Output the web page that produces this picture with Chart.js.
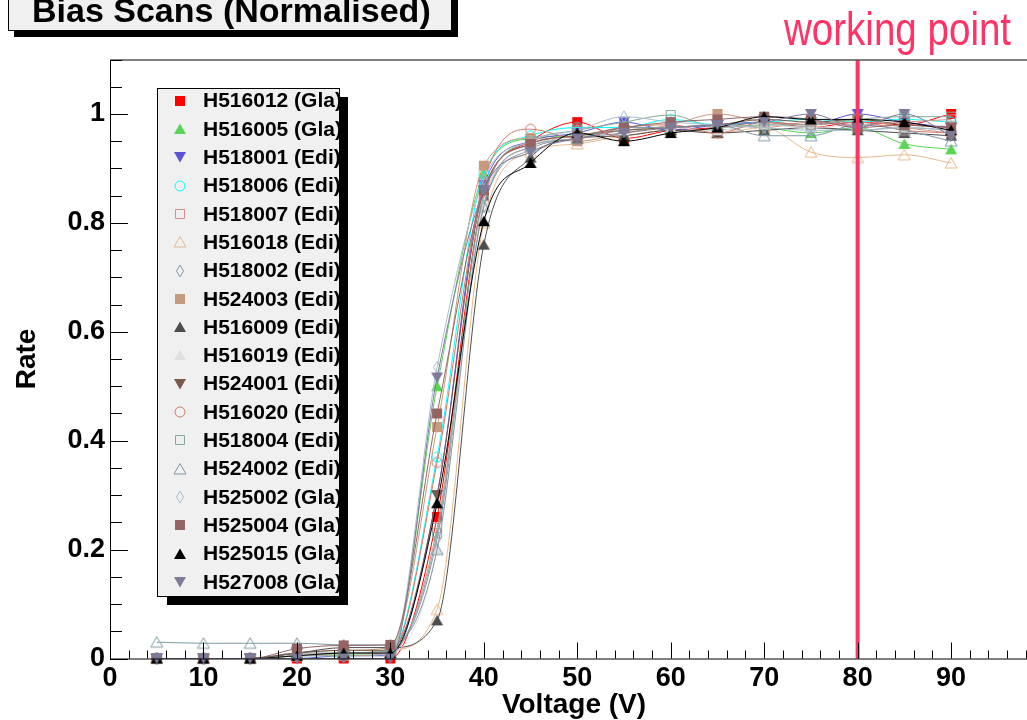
<!DOCTYPE html>
<html>
<head>
<meta charset="utf-8">
<title>Bias Scans (Normalised)</title>
<script src="https://cdn.jsdelivr.net/npm/chart.js@4.4.0/dist/chart.umd.min.js"></script>
<style>
  html, body { margin: 0; padding: 0; background: #fff; overflow: hidden; }
  #wrap { width: 1045px; height: 720px; }
</style>
</head>
<body>
<div id="wrap"><canvas id="c" width="1045" height="720"></canvas></div>
<script>
// bias voltage steps (V)
const voltages = [5, 10, 15, 20, 25, 30, 35, 40, 45, 50, 55, 60, 65, 70, 75, 80, 85, 90];
const xTicks = [0, 10, 20, 30, 40, 50, 60, 70, 80, 90];
const yTicks = [0, 0.2, 0.4, 0.6, 0.8, 1];
const yTickLabels = ['0', '0.2', '0.4', '0.6', '0.8', '1'];
const workingPoint = 80;

const names = [
  'H516012 (Gla)', 'H516005 (Gla)', 'H518001 (Edi)', 'H518006 (Edi)', 'H518007 (Edi)',
  'H516018 (Edi)', 'H518002 (Edi)', 'H524003 (Edi)', 'H516009 (Edi)', 'H516019 (Edi)',
  'H524001 (Edi)', 'H516020 (Edi)', 'H518004 (Edi)', 'H524002 (Edi)', 'H525002 (Gla)',
  'H525004 (Gla)', 'H525015 (Gla)', 'H527008 (Gla)'
];

// normalised rates, one array per module
const h516012 = [0, 0, 0, 0, 0, 0, 0.26, 0.85, 0.95, 0.985, 0.955, 0.97, 0.975, 0.985, 0.975, 0.985, 0.98, 1.0];
const h516005 = [0, 0, 0, 0.005, 0.008, 0.01, 0.50, 0.89, 0.955, 0.96, 0.97, 0.975, 0.98, 0.975, 0.965, 0.975, 0.945, 0.935];
const h518001 = [0, 0, 0, 0, 0.005, 0.005, 0.30, 0.87, 0.95, 0.965, 0.985, 0.97, 0.98, 0.985, 0.98, 1.0, 0.985, 0.975];
const h518006 = [0, 0, 0, 0.005, 0.005, 0.01, 0.37, 0.89, 0.96, 0.975, 0.975, 0.99, 0.98, 0.985, 0.99, 0.985, 0.99, 0.985];
const h518007 = [0, 0, 0, 0.005, 0.005, 0.01, 0.24, 0.84, 0.94, 0.96, 0.97, 0.975, 0.98, 0.975, 0.985, 0.98, 0.985, 0.99];
const h516018 = [0, 0, 0, 0.005, 0.01, 0.015, 0.09, 0.80, 0.93, 0.945, 0.96, 0.97, 0.965, 0.975, 0.93, 0.92, 0.925, 0.91];
const h518002 = [0, 0, 0, 0.01, 0.01, 0.015, 0.22, 0.83, 0.935, 0.955, 0.97, 0.975, 0.97, 0.98, 0.975, 0.97, 0.975, 0.97];
const h524003 = [0, 0, 0, 0.01, 0.015, 0.02, 0.425, 0.905, 0.955, 0.95, 0.965, 0.98, 1.0, 0.985, 0.98, 0.99, 0.975, 0.965];
const h516009 = [0, 0, 0, 0.01, 0.02, 0.02, 0.07, 0.76, 0.92, 0.955, 0.96, 0.97, 0.965, 0.97, 0.975, 0.97, 0.965, 0.96];
const h516019 = [0, 0, 0, 0.005, 0.01, 0.01, 0.20, 0.84, 0.94, 0.96, 0.97, 0.975, 0.97, 0.98, 0.975, 0.98, 0.975, 0.98];
const h524001 = [0, 0, 0, 0.01, 0.015, 0.015, 0.30, 0.86, 0.945, 0.96, 0.97, 0.975, 0.98, 0.99, 0.985, 0.99, 0.98, 0.975];
const h516020 = [0, 0, 0, 0.005, 0.01, 0.01, 0.36, 0.875, 0.972, 0.955, 0.975, 0.98, 0.965, 0.985, 0.98, 0.985, 0.97, 0.965];
const h518004 = [0, 0, 0, 0.005, 0.01, 0.015, 0.23, 0.85, 0.95, 0.97, 0.985, 0.998, 0.975, 0.98, 0.98, 0.99, 0.995, 0.995];
const h524002 = [0.03, 0.028, 0.028, 0.028, 0.025, 0.025, 0.20, 0.83, 0.94, 0.955, 0.975, 0.975, 0.98, 0.96, 0.96, 0.98, 0.97, 0.95];
const h525002 = [0, 0, 0, 0.005, 0.01, 0.01, 0.535, 0.88, 0.95, 0.97, 0.995, 0.985, 0.98, 0.975, 0.97, 0.97, 0.975, 0.97];
const h525004 = [0, 0, 0, 0.018, 0.024, 0.025, 0.45, 0.86, 0.945, 0.96, 0.975, 0.985, 0.99, 0.995, 0.99, 0.975, 0.98, 0.975];
const h525015 = [0, 0, 0, 0.005, 0.01, 0.01, 0.285, 0.803, 0.91, 0.965, 0.95, 0.965, 0.975, 0.995, 0.99, 0.99, 0.985, 0.97];
const h527008 = [0, 0, 0, 0, 0, 0, 0.516, 0.86, 0.93, 0.955, 0.965, 0.975, 0.98, 0.985, 1.0, 0.975, 1.0, 0.96];

const rates = [h516012, h516005, h518001, h518006, h518007, h516018, h518002, h524003, h516009,
  h516019, h524001, h516020, h518004, h524002, h525002, h525004, h525015, h527008];

const colors = ['#ff0000', '#59d454', '#5954d8', '#00ffff', '#d98c8c', '#e6b98a', '#8496a5', '#c69a7c', '#4d4d4d',
  '#e0e0e0', '#7a5a4a', '#cc7a6a', '#86a89a', '#7f98a3', '#a9bccc', '#946464', '#000000', '#7e7b9a'];
const markerKinds = ['fullSquare', 'fullTriUp', 'fullTriDown', 'openCircle', 'openSquare', 'openTriUp', 'openDiamond',
  'fullSquare', 'fullTriUp', 'fullTriUp', 'fullTriDown', 'openCircle', 'openSquare', 'openTriUp', 'openDiamond',
  'fullSquare', 'fullTriUp', 'fullTriDown'];

const FONT = '"Liberation Sans", Arial, Helvetica, sans-serif';
const PINK = '#ff3366';

// ROOT-like marker drawn on a little canvas, used as pointStyle
function makeMarker(kind, color) {
  const c = document.createElement('canvas');
  c.width = 14; c.height = 14;
  const g = c.getContext('2d');
  const m = 7;
  g.fillStyle = color;
  g.strokeStyle = color;
  g.lineWidth = 1;
  g.beginPath();
  if (kind === 'fullSquare') g.rect(2, 2, 10, 10);
  else if (kind === 'openSquare') g.rect(2.5, 2.5, 9, 9);
  else if (kind.endsWith('TriUp')) { g.moveTo(m, m - 5.5); g.lineTo(m + 6, m + 5); g.lineTo(m - 6, m + 5); g.closePath(); }
  else if (kind.endsWith('TriDown')) { g.moveTo(m, m + 5.5); g.lineTo(m + 6, m - 5); g.lineTo(m - 6, m - 5); g.closePath(); }
  else if (kind === 'openCircle') g.arc(m, m, 5, 0, Math.PI * 2);
  else if (kind === 'openDiamond') { g.moveTo(m, m - 6); g.lineTo(m + 3.5, m); g.lineTo(m, m + 6); g.lineTo(m - 3.5, m); g.closePath(); }
  if (kind.startsWith('full')) g.fill(); else g.stroke();
  return c;
}

const markerImgs = markerKinds.map((k, i) => makeMarker(k, colors[i]));

const datasets = names.map((name, i) => ({
  label: name,
  data: voltages.map((v, j) => ({ x: v, y: rates[i][j] })),
  borderColor: colors[i],
  backgroundColor: colors[i],
  borderWidth: 1,
  pointStyle: markerImgs[i],
  pointRadius: 6,
  cubicInterpolationMode: 'monotone',
  clip: false,
  order: names.length - i
}));

// frame, inner ticks, working point, legend and title box
const rootDecor = {
  id: 'rootDecor',
  afterDatasetsDraw(chart) {
    const ctx = chart.ctx;
    const a = chart.chartArea;
    const xs = chart.scales.x, ys = chart.scales.y;
    ctx.save();

    // working point line
    const wx = xs.getPixelForValue(workingPoint);
    ctx.strokeStyle = PINK;
    ctx.lineWidth = 4;
    ctx.beginPath();
    ctx.moveTo(wx, a.top + 1);
    ctx.lineTo(wx, a.bottom);
    ctx.stroke();

    // frame
    ctx.strokeStyle = '#000';
    ctx.lineWidth = 1;
    ctx.beginPath();
    ctx.moveTo(a.left + 0.5, a.top + 0.5);
    ctx.lineTo(a.left + 0.5, a.bottom + 0.5);
    ctx.lineTo(a.right, a.bottom + 0.5);
    ctx.moveTo(a.left, a.top + 0.5);
    ctx.lineTo(a.right, a.top + 0.5);
    ctx.stroke();

    // ticks pointing into the frame
    ctx.beginPath();
    for (let v = 0; v <= xs.max; v += 2) {
      const px = Math.round(xs.getPixelForValue(v)) + 0.5;
      const len = v % 10 === 0 ? 16 : 8;
      ctx.moveTo(px, a.bottom);
      ctx.lineTo(px, a.bottom - len);
    }
    for (let k = 0; k <= 22; k++) {
      const v = k * 0.05;
      const py = Math.round(ys.getPixelForValue(v)) + 0.5;
      const len = k % 4 === 0 ? 18 : 12;
      ctx.moveTo(a.left, py);
      ctx.lineTo(a.left + len, py);
    }
    ctx.stroke();

    // legend box with shadow
    ctx.fillStyle = '#000';
    ctx.fillRect(167, 97, 181, 508);
    ctx.fillStyle = '#f0f0f0';
    ctx.fillRect(157, 88, 183, 509);
    ctx.font = 'bold 21px ' + FONT;
    ctx.textBaseline = 'middle';
    ctx.textAlign = 'left';
    names.forEach((name, i) => {
      const ry = 100.7 + i * 28.3;
      ctx.drawImage(markerImgs[i], 180 - 7, Math.round(ry) - 7);
      ctx.fillStyle = '#000';
      ctx.fillText(name, 203, ry + 1);
    });
    // shadow edge covers text overflow
    ctx.fillStyle = '#000';
    ctx.fillRect(340, 97, 8, 508);
    ctx.strokeStyle = '#000';
    ctx.strokeRect(157.5, 88.5, 182, 508);

    // title box
    ctx.fillStyle = '#000';
    ctx.fillRect(14, 0, 444, 37);
    ctx.fillStyle = '#f0f0f0';
    ctx.fillRect(8, -2, 444, 33);
    ctx.strokeRect(8.5, -1.5, 443, 32);
    ctx.fillStyle = '#000';
    ctx.font = 'bold 34px ' + FONT;
    ctx.textBaseline = 'alphabetic';
    ctx.fillText('Bias Scans (Normalised)', 32, 22);

    // working point label (narrow sans)
    ctx.translate(784, 45);
    ctx.scale(0.82, 1);
    ctx.fillStyle = PINK;
    ctx.font = '47px ' + FONT;
    ctx.fillText('working point', 0, 0);
    ctx.restore();
  }
};

new Chart(document.getElementById('c').getContext('2d'), {
  type: 'line',
  data: { datasets: datasets },
  options: {
    responsive: false,
    animation: false,
    layout: { padding: { top: 59.5, right: 2, left: 0, bottom: 0 } },
    plugins: { legend: { display: false }, tooltip: { enabled: false } },
    scales: {
      x: {
        type: 'linear',
        min: 0,
        max: 99.3,
        afterBuildTicks: (s) => { s.ticks = xTicks.map(v => ({ value: v })); },
        afterFit: (s) => { s.height = 61.5; },
        grid: { display: false, drawTicks: false, tickLength: 0 },
        border: { display: false },
        ticks: {
          color: '#000',
          padding: 4,
          maxRotation: 0,
          autoSkip: false,
          font: { family: FONT, weight: 'bold', size: 27 },
          callback: (v) => String(v)
        },
        title: {
          display: true,
          text: 'Voltage (V)',
          color: '#000',
          padding: { top: 0, bottom: 1 },
          font: { family: FONT, weight: 'bold', size: 28, lineHeight: 1 }
        }
      },
      y: {
        min: 0,
        max: 1.1,
        afterBuildTicks: (s) => { s.ticks = yTicks.map(v => ({ value: v })); },
        afterFit: (s) => { s.width = 110; },
        grid: { display: false, drawTicks: false, tickLength: 0 },
        border: { display: false },
        ticks: {
          color: '#000',
          padding: 5,
          autoSkip: false,
          font: { family: FONT, weight: 'bold', size: 27 },
          callback: (v, i) => yTickLabels[i]
        },
        title: {
          display: true,
          text: 'Rate',
          color: '#000',
          padding: { top: 10, bottom: 0 },
          font: { family: FONT, weight: 'bold', size: 28 }
        }
      }
    }
  },
  plugins: [rootDecor]
});
</script>
</body>
</html>
